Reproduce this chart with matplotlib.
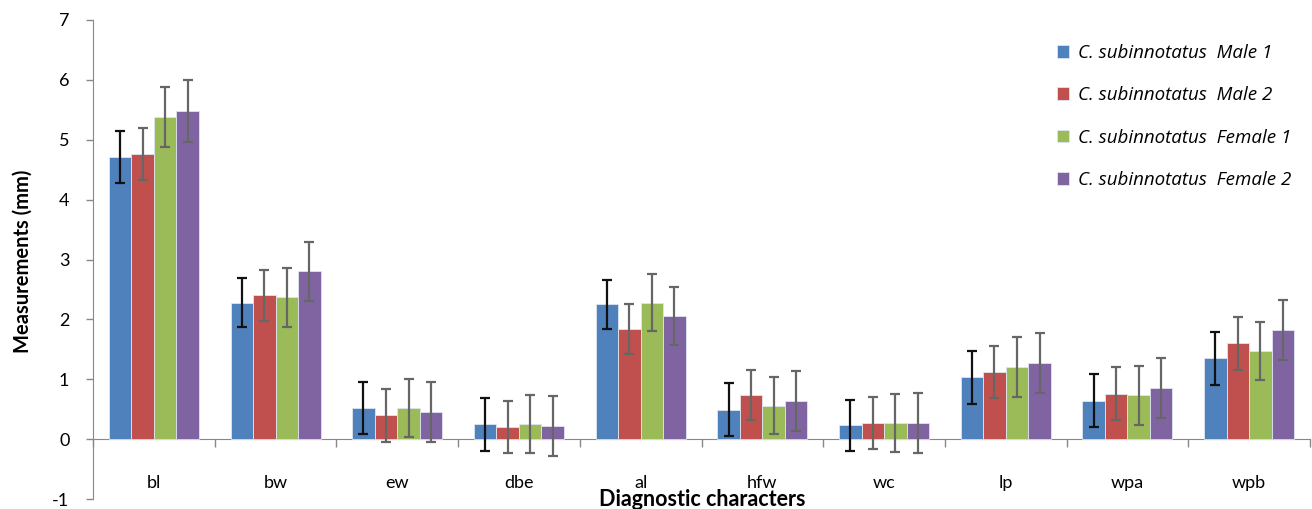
import matplotlib
matplotlib.use("Agg")
import matplotlib.pyplot as plt
import numpy as np

categories = ["bl", "bw", "ew", "dbe", "al", "hfw", "wc", "lp", "wpa", "wpb"]
series_names = ["C. subinnotatus  Male 1", "C. subinnotatus  Male 2",
                "C. subinnotatus  Female 1", "C. subinnotatus  Female 2"]
male1 = [4.71, 2.28, 0.52, 0.25, 2.25, 0.49, 0.23, 1.03, 0.64, 1.35]
male2 = [4.76, 2.40, 0.40, 0.20, 1.84, 0.74, 0.27, 1.12, 0.76, 1.60]
female1 = [5.38, 2.37, 0.52, 0.25, 2.28, 0.56, 0.27, 1.20, 0.73, 1.47]
female2 = [5.48, 2.80, 0.46, 0.22, 2.06, 0.64, 0.27, 1.27, 0.86, 1.82]
male1_err = [0.43, 0.41, 0.44, 0.44, 0.41, 0.44, 0.43, 0.44, 0.44, 0.44]
male2_err = [0.44, 0.42, 0.44, 0.43, 0.41, 0.42, 0.43, 0.44, 0.44, 0.44]
female1_err = [0.50, 0.49, 0.48, 0.48, 0.48, 0.48, 0.48, 0.50, 0.49, 0.48]
female2_err = [0.51, 0.50, 0.50, 0.50, 0.48, 0.50, 0.50, 0.50, 0.50, 0.50]
y_ticks = [-1, 0, 1, 2, 3, 4, 5, 6, 7]

colors = ["#4F81BD", "#C0504D", "#9BBB59", "#8064A2"]
line_colors = ["#111111", "#666666", "#666666", "#666666"]

plt.rcParams['font.family'] = ['Lato', 'DejaVu Sans']

fig = plt.figure(figsize=(13.12, 5.09), dpi=100)
ax = fig.add_axes([93/1312, 10/509, (1310-93)/1312, 479/509])

values = [male1, male2, female1, female2]
errs = [male1_err, male2_err, female1_err, female2_err]
n = len(categories)
x = np.arange(n)
w = 0.185
handles = []
for i in range(4):
    pos = x + (i - 1.5) * w
    b = ax.bar(pos, values[i], width=w, color=colors[i], edgecolor="#dfe6f0",
               linewidth=0.6, zorder=2, label=series_names[i])
    handles.append(b)
    _, caps, bars = ax.errorbar(pos, values[i], yerr=errs[i], fmt='none',
                                ecolor=line_colors[i], elinewidth=1.6,
                                capsize=3.4, capthick=1.6, zorder=3)
    for c in caps:
        c.set_color("#111111")

ax.set_xlim(-0.5, n - 0.5)
ax.set_ylim(-1, 7)
ax.set_yticks(y_ticks)
ax.set_yticklabels([str(t) for t in y_ticks], fontsize=13)
ax.tick_params(axis='y', length=5, width=1, color="#888888", pad=12)

ax.spines['top'].set_visible(False)
ax.spines['right'].set_visible(False)
ax.spines['left'].set_color("#888888")
ax.spines['bottom'].set_color("#888888")
ax.spines['bottom'].set_position(('data', 0))
ax.spines['bottom'].set_zorder(1)

ax.set_xticks(np.arange(n + 1) - 0.5)
ax.set_xticklabels([])
ax.tick_params(axis='x', which='major', length=6, width=1, color="#888888")
ax.set_xticks(x, minor=True)
ax.set_xticklabels(categories, minor=True, fontsize=13)
ax.tick_params(axis='x', which='minor', length=0, pad=26)

fig.text(23/1312, 1 - 261/509, "Measurements (mm)", fontsize=14.5, fontweight='bold',
         ha='center', va='center', rotation=90)
fig.text(702/1312, 1 - 500/509, "Diagnostic characters", fontsize=15.5,
         fontweight='bold', ha='center', va='center')

fig.legend(handles=handles, loc='upper left', bbox_to_anchor=(1040/1312, 1 - 27/509),
           frameon=False, labelspacing=1.3,
           handlelength=0.65, handleheight=0.65, handletextpad=0.45,
           prop={'family': ['Open Sans', 'DejaVu Sans'], 'style': 'italic', 'size': 13.5})

fig.savefig("out.png", dpi=100)
